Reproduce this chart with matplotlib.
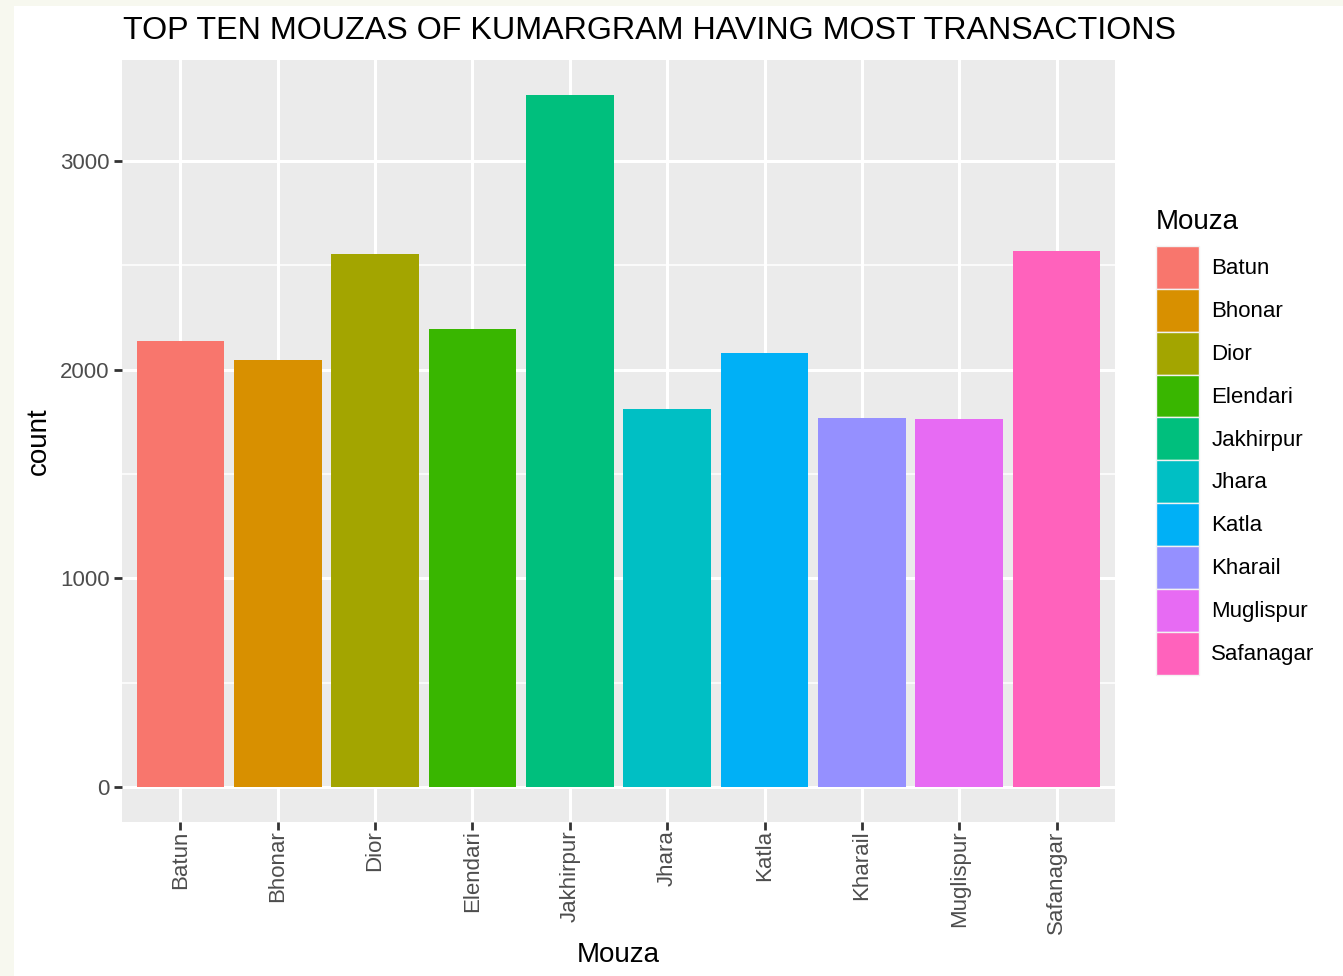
import matplotlib
matplotlib.use("Agg")
import matplotlib.pyplot as plt
from matplotlib.patches import Rectangle, Patch

plt.rcParams['font.family'] = ['Liberation Sans', 'DejaVu Sans']

categories = ["Batun", "Bhonar", "Dior", "Elendari", "Jakhirpur", "Jhara",
              "Katla", "Kharail", "Muglispur", "Safanagar"]
counts = [2139, 2048, 2555, 2196, 3316, 1813, 2081, 1770, 1761, 2569]
colors = ["#F8766D", "#D89000", "#A3A500", "#39B600", "#00BF7D", "#00BFC4",
          "#00B0F6", "#9590FF", "#E76BF3", "#FF62BC"]
yticks = [0, 1000, 2000, 3000]

W, H = 1343, 976
fig = plt.figure(figsize=(W/100, H/100), dpi=100, facecolor="#F7F8EF")
bg = fig.add_axes([0, 0, 1, 1], zorder=-10)
bg.set_xlim(0, W)
bg.set_ylim(H, 0)
bg.axis("off")
bg.add_patch(Rectangle((14, 6), W - 14, H - 6, facecolor="white", edgecolor="none"))

ax = fig.add_axes([122/W, 1 - 822/H, (1115-122)/W, (822-60)/H], zorder=1)
ax.set_facecolor("#EBEBEB")
x = list(range(1, len(categories) + 1))
ax.bar(x, counts, width=0.9, color=colors, zorder=3)
ax.set_xlim(0.4, len(categories) + 0.6)
ymax = max(counts)
ax.set_ylim(-0.05*ymax, ymax*1.05)

for v in [500, 1500, 2500]:
    ax.axhline(v, color="white", lw=1.1, zorder=1)
for v in yticks:
    ax.axhline(v, color="white", lw=2.2, zorder=1)
for xi in x:
    ax.axvline(xi, color="white", lw=2.2, zorder=1)

ax.set_xticks(x)
ax.set_xticklabels(categories, rotation=90, fontsize=16, color="#4D4D4D")
ax.set_yticks(yticks)
ax.set_yticklabels([str(v) for v in yticks], fontsize=16, color="#4D4D4D")
ax.tick_params(axis='both', length=6, width=2, color="#333333", pad=3)
ax.tick_params(axis='x', pad=0)
for s in ax.spines.values():
    s.set_visible(False)
ax.set_xlabel("Mouza", fontsize=20, labelpad=6)
ax.set_ylabel("count", fontsize=20, labelpad=6)

fig.text(123/W, 1 - 31/H, "TOP TEN MOUZAS OF KUMARGRAM HAVING MOST TRANSACTIONS",
         fontsize=23.2, va="center", ha="left")

handles = [Patch(facecolor=c, edgecolor="#F2F2F2", linewidth=1) for c in colors]
leg = fig.legend(handles, categories, title="Mouza", loc="upper left",
                 bbox_to_anchor=(1147/W, 1 - 200/H), frameon=False,
                 fontsize=16, title_fontsize=20, handlelength=1.95, handleheight=2.59,
                 labelspacing=0.0, handletextpad=0.55, borderaxespad=0)
leg._legend_box.align = "left"
leg._legend_box.sep = 8

fig.savefig("out.png", dpi=100, facecolor=fig.get_facecolor())
